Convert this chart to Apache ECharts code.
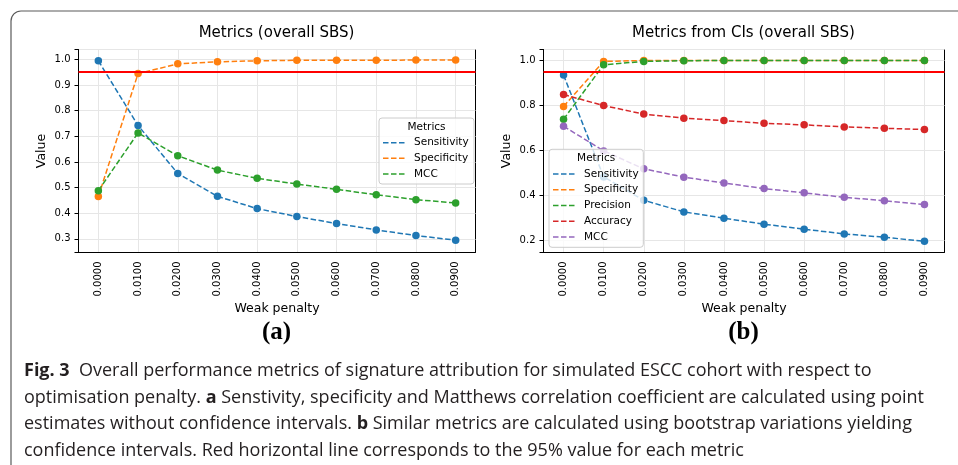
<!DOCTYPE html>
<html>
<head>
<meta charset="utf-8">
<script src="https://cdn.jsdelivr.net/npm/echarts@6.0.0/dist/echarts.min.js"></script>
<style>
  html, body { margin: 0; padding: 0; background: #fff; }
  #chart { width: 958px; height: 465px; }
</style>
</head>
<body>
<div id="chart"></div>
<script>
  'use strict'

  //------------------- Data -------------------//
  const penalties = ['0.0000', '0.0100', '0.0200', '0.0300', '0.0400', '0.0500', '0.0600', '0.0700', '0.0800', '0.0900']

  // (a) point estimates
  const sensitivityA = [0.994, 0.742, 0.555, 0.466, 0.418, 0.387, 0.360, 0.335, 0.313, 0.295]
  const specificityA = [0.465, 0.944, 0.982, 0.990, 0.994, 0.996, 0.996, 0.996, 0.997, 0.997]
  const mccA = [0.488, 0.713, 0.624, 0.568, 0.536, 0.514, 0.493, 0.472, 0.453, 0.440]

  // (b) from confidence intervals
  const sensitivityB = [0.935, 0.481, 0.377, 0.325, 0.297, 0.270, 0.248, 0.227, 0.212, 0.194]
  const specificityB = [0.795, 0.996, 1.000, 1.000, 1.000, 1.000, 1.000, 1.000, 1.000, 1.000]
  const precisionB = [0.738, 0.981, 0.996, 0.999, 1.000, 1.000, 1.000, 1.000, 1.000, 1.000]
  const accuracyB = [0.848, 0.799, 0.761, 0.743, 0.732, 0.720, 0.713, 0.704, 0.698, 0.692]
  const mccB = [0.707, 0.597, 0.517, 0.480, 0.454, 0.429, 0.410, 0.390, 0.375, 0.358]

  const threshold = 0.95

  const captionLines = [
    '{b|Fig. 3}  Overall performance metrics of signature attribution for simulated ESCC cohort with respect to',
    'optimisation penalty. {b|a} Senstivity, specificity and Matthews correlation coefficient are calculated using point',
    'estimates without confidence intervals. {b|b} Similar metrics are calculated using bootstrap variations yielding',
    'confidence intervals. Red horizontal line corresponds to the 95% value for each metric',
  ]

  //------------------- Styles -------------------//
  const FONT = '"DejaVu Sans", sans-serif'
  const CAPTION_FONT = '"Open Sans", "Noto Sans", sans-serif'
  // matplotlib tab10, in plotting order
  const TAB10 = ['#1f77b4', '#ff7f0e', '#2ca02c', '#d62728', '#9467bd']
  const GRID_COLOR = '#e6e6e6'

  // fit caption size so the longest line spans the caption width
  const measureCtx = document.createElement('canvas').getContext('2d')
  measureCtx.font = '16px "Open Sans"'
  const line2Plain = captionLines[1].replace(/\{b\|([^}]*)\}/g, '$1')
  const captionSize = Math.min(18, 16 * 917 / measureCtx.measureText(line2Plain).width)

  //------------------- Builders -------------------//
  const xAxisFor = (gridIndex) => ({
    type: 'category',
    gridIndex,
    data: penalties,
    boundaryGap: true,
    name: 'Weak penalty',
    nameLocation: 'middle',
    nameGap: 50,
    nameTextStyle: {fontFamily: FONT, fontSize: 12.5, color: '#000'},
    axisLine: {lineStyle: {color: '#000', width: 1}},
    axisTick: {alignWithLabel: true, length: 4, lineStyle: {color: '#000'}},
    axisLabel: {rotate: 90, interval: 0, margin: 9, fontFamily: FONT, fontSize: 10, color: '#000'},
    splitLine: {show: true, alignWithLabel: true, lineStyle: {color: GRID_COLOR, width: 1}},
  })

  const yAxisFor = (gridIndex, min, max, splitNumber) => ({
    type: 'value',
    gridIndex,
    min,
    max,
    splitNumber,
    name: 'Value',
    nameLocation: 'middle',
    nameGap: 30,
    nameTextStyle: {fontFamily: FONT, fontSize: 12.5, color: '#000'},
    axisLine: {show: true, lineStyle: {color: '#000', width: 1}},
    axisTick: {show: true, length: 4, lineStyle: {color: '#000'}},
    axisLabel: {
      margin: 8,
      fontFamily: FONT,
      fontSize: 10,
      color: '#000',
      // only label the round ticks, not the axis extents
      formatter: v => Math.abs(v * 10 - Math.round(v * 10)) < 1e-6 ? v.toFixed(1) : '',
    },
    splitLine: {show: true, lineStyle: {color: GRID_COLOR, width: 1}},
  })

  const lineSeries = (name, data, axisIndex, color) => ({
    name,
    type: 'line',
    data,
    xAxisIndex: axisIndex,
    yAxisIndex: axisIndex,
    symbol: 'circle',
    symbolSize: 7.5,
    showAllSymbol: true,
    color,
    lineStyle: {color, width: 1.5, type: [5.5, 2.5]},
    itemStyle: {color},
    emphasis: {disabled: true},
  })

  const redLine = (axisIndex) => ({
    type: 'line',
    data: [],
    xAxisIndex: axisIndex,
    yAxisIndex: axisIndex,
    markLine: {
      silent: true,
      symbol: 'none',
      label: {show: false},
      lineStyle: {color: '#ff0000', width: 2, type: 'solid'},
      data: [{yAxis: threshold}],
    },
  })

  const legendBox = (names, box, firstRowY, rowStep) => {
    const els = [
      {
        type: 'rect', z: 100,
        shape: {x: box.x, y: box.y, width: box.w, height: box.h, r: 3},
        style: {fill: 'rgba(255,255,255,0.8)', stroke: '#cccccc', lineWidth: 1},
      },
      {
        type: 'text', z: 101,
        x: box.x + box.w / 2, y: box.y + 9,
        style: {text: 'Metrics', font: `10.5px ${FONT}`, fill: '#000', align: 'center', verticalAlign: 'middle'},
      },
    ]
    names.forEach((name, i) => {
      const y = firstRowY + i * rowStep
      els.push({
        type: 'line', z: 101,
        shape: {x1: box.x + 4, y1: y, x2: box.x + 26, y2: y},
        style: {stroke: TAB10[i], lineWidth: 1.5, lineDash: [5.5, 2.5]},
      })
      els.push({
        type: 'text', z: 101,
        x: box.x + 35, y,
        style: {text: name, font: `10.5px ${FONT}`, fill: '#000', align: 'left', verticalAlign: 'middle'},
      })
    })
    return els
  }

  //------------------- Chart -------------------//
  const chart = echarts.init(document.getElementById('chart'), null, {renderer: 'canvas'})

  const namesA = ['Sensitivity', 'Specificity', 'MCC']
  const namesB = ['Sensitivity', 'Specificity', 'Precision', 'Accuracy', 'MCC']
  const dataA = [sensitivityA, specificityA, mccA]
  const dataB = [sensitivityB, specificityB, precisionB, accuracyB, mccB]

  const option = {
    animation: false,
    backgroundColor: '#fff',
    title: [
      {
        text: 'Metrics (overall SBS)', left: 276.5, top: 26, textAlign: 'center', padding: 0,
        textStyle: {fontFamily: FONT, fontSize: 15, fontWeight: 'normal', color: '#000'},
      },
      {
        text: 'Metrics from CIs (overall SBS)', left: 743.5, top: 26, textAlign: 'center', padding: 0,
        textStyle: {fontFamily: FONT, fontSize: 15, fontWeight: 'normal', color: '#000'},
      },
    ],
    grid: [
      {left: 78.5, top: 49.5, width: 397, height: 203, show: true, borderColor: '#000', borderWidth: 1, backgroundColor: 'transparent'},
      {left: 543.5, top: 49.5, width: 401, height: 203, show: true, borderColor: '#000', borderWidth: 1, backgroundColor: 'transparent'},
    ],
    xAxis: [xAxisFor(0), xAxisFor(1)],
    yAxis: [yAxisFor(0, 0.247, 1.038, 8), yAxisFor(1, 0.144, 1.049, 5)],
    series: [
      redLine(0),
      ...namesA.map((name, i) => lineSeries(name, dataA[i], 0, TAB10[i])),
      redLine(1),
      ...namesB.map((name, i) => lineSeries(name, dataB[i], 1, TAB10[i])),
    ],
    graphic: [
      // figure frame
      {
        type: 'rect', z: 0,
        shape: {x: 11, y: 11, width: 1100, height: 600, r: 10},
        style: {fill: 'none', stroke: '#5a5a5a', lineWidth: 1.2},
      },
      ...legendBox(namesA, {x: 379, y: 118, w: 95, h: 66}, 142.7, 15.65),
      ...legendBox(namesB, {x: 549, y: 149.3, w: 94.3, h: 98}, 174, 15.75),
      // panel labels
      {
        type: 'text', x: 276.5, y: 333,
        style: {text: '(a)', font: 'bold 25px "Liberation Serif", serif', fill: '#000', align: 'center', verticalAlign: 'middle'},
      },
      {
        type: 'text', x: 743.5, y: 333,
        style: {text: '(b)', font: 'bold 25px "Liberation Serif", serif', fill: '#000', align: 'center', verticalAlign: 'middle'},
      },
      // caption
      ...captionLines.map((text, i) => ({
        type: 'text', x: 24, y: 371 + i * 26.5,
        style: {
          text,
          font: `${captionSize}px ${CAPTION_FONT}`,
          fill: '#231f20',
          align: 'left',
          verticalAlign: 'middle',
          rich: {b: {fontWeight: 'bold', fontSize: captionSize, fontFamily: CAPTION_FONT, fill: '#231f20'}},
        },
      })),
    ],
  }

  chart.setOption(option)
</script>
</body>
</html>
